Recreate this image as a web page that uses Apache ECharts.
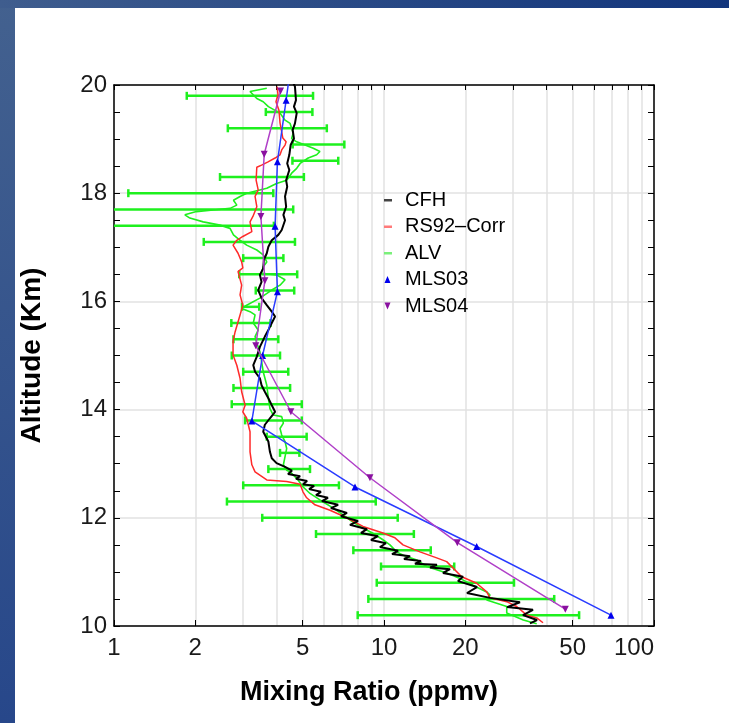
<!DOCTYPE html>
<html>
<head>
<meta charset="utf-8">
<title>Water vapour mixing ratio profile</title>
<script src="https://cdn.jsdelivr.net/npm/echarts@6/dist/echarts.min.js"></script>
<style>
  html, body { margin: 0; padding: 0; width: 729px; height: 723px; overflow: hidden; background: #2c4b88; }
  .frame-left { position: absolute; left: 0; top: 0; width: 15px; height: 723px; background: linear-gradient(to bottom, #43618f, #27478a); }
  .frame-top { position: absolute; left: 0; top: 0; width: 729px; height: 8px; background: linear-gradient(to right, #3f5d8e, #12357c); }
  .panel { position: absolute; left: 15px; top: 8px; right: 0; bottom: 0; background: #fff; }
  #chart { position: absolute; left: 0; top: 0; width: 729px; height: 723px; }
</style>
</head>
<body>
<div class="frame-left"></div>
<div class="frame-top"></div>
<div class="panel"></div>
<div id="chart"></div>
<script>
// tick values
const xLabelValues = [1, 2, 5, 10, 20, 50, 100]
const xGridValues = [1, 2, 3, 4, 5, 6, 7, 8, 9, 10, 20, 30, 40, 50, 60, 70, 80, 90, 100]

// [mixing ratio ppmv, altitude km]
const cfh = [
  [4.6, 20.05], [4.68, 19.97], [4.72, 19.72], [4.64, 19.6], [4.75, 19.48], [4.68, 19.29], [4.59, 19.17],
  [4.64, 19.01], [4.51, 18.89], [4.46, 18.71], [4.38, 18.55], [4.46, 18.43], [4.34, 18.24],
  [4.38, 18.12], [4.3, 17.94], [4.34, 17.75], [4.24, 17.6], [4.3, 17.5], [4.18, 17.32],
  [4.06, 17.23], [3.84, 17.13], [3.73, 17.01], [3.68, 16.89], [3.59, 16.77], [3.57, 16.61],
  [3.47, 16.49], [3.52, 16.36], [3.42, 16.21], [3.52, 16.06], [3.68, 15.93], [3.84, 15.81],
  [3.95, 15.72], [3.84, 15.6], [3.73, 15.47], [3.62, 15.35], [3.47, 15.16], [3.38, 14.98],
  [3.28, 14.82], [3.33, 14.7], [3.47, 14.58], [3.52, 14.45], [3.62, 14.33], [3.73, 14.21],
  [3.84, 14.08], [3.95, 13.96], [3.78, 13.84], [3.62, 13.72], [3.57, 13.59], [3.73, 13.41],
  [3.78, 13.22], [3.84, 13.1], [4.0, 13.01], [4.3, 12.94], [4.56, 12.87], [4.41, 12.81],
  [4.89, 12.77], [4.72, 12.72], [5.19, 12.68], [5.01, 12.62], [5.51, 12.59], [5.28, 12.53],
  [5.84, 12.48], [5.6, 12.42], [6.2, 12.37], [5.89, 12.31], [6.76, 12.24], [6.36, 12.18],
  [7.29, 12.09], [6.93, 12.03], [8.01, 11.94], [7.48, 11.87], [8.65, 11.79], [8.22, 11.72],
  [9.5, 11.66], [8.95, 11.59], [10.17, 11.53], [9.66, 11.46], [11.27, 11.39], [10.71, 11.33],
  [12.49, 11.29], [11.86, 11.24], [13.71, 11.2], [13.02, 11.15], [15.71, 11.13], [14.81, 11.08],
  [17.56, 11.05], [16.54, 10.98], [19.62, 10.91], [18.8, 10.83], [22.1, 10.72], [20.3, 10.61],
  [24.7, 10.52], [31.89, 10.44], [28.55, 10.35], [35.63, 10.3], [32.72, 10.2], [36.87, 10.11],
  [34.73, 10.05]
]

const rs92 = [
  [4.02, 19.97], [4.05, 19.82], [3.98, 19.69], [4.08, 19.54], [4.12, 19.3], [4.22, 19.02],
  [4.34, 18.95], [4.3, 18.89], [4.18, 18.8], [4.12, 18.71], [3.95, 18.65], [3.72, 18.58],
  [3.52, 18.52], [3.38, 18.48], [3.36, 18.24], [3.42, 18.06], [3.33, 17.94], [3.38, 17.75],
  [3.27, 17.57], [3.19, 17.47], [3.24, 17.29], [3.0, 17.2], [2.85, 17.13], [2.76, 17.04],
  [2.88, 16.89], [2.97, 16.73], [3.0, 16.62], [2.88, 16.55], [2.97, 16.3], [2.93, 16.12],
  [3.0, 15.93], [2.93, 15.75], [2.81, 15.44], [2.76, 15.26], [2.76, 15.01], [2.85, 14.82],
  [2.93, 14.58], [2.97, 14.33], [3.06, 14.08], [3.0, 13.96], [3.1, 13.84], [3.19, 13.59],
  [3.19, 13.22], [3.24, 12.98], [3.33, 12.85], [3.68, 12.7], [4.36, 12.67], [4.89, 12.62],
  [5.01, 12.48], [5.17, 12.37], [5.55, 12.24], [6.31, 12.14], [7.28, 12.0], [8.36, 11.84],
  [9.91, 11.72], [10.98, 11.63], [11.76, 11.5], [13.59, 11.37], [15.67, 11.26], [17.07, 11.19],
  [19.4, 10.91], [22.04, 10.79], [24.01, 10.63], [24.7, 10.52], [28.48, 10.45], [31.01, 10.36],
  [33.78, 10.2], [36.78, 10.15], [38.81, 10.06]
]

const alv = [
  [3.68, 19.94], [3.19, 19.88], [3.38, 19.75], [3.57, 19.69], [3.73, 19.6], [4.12, 19.48],
  [4.3, 19.35], [4.49, 19.29], [4.61, 19.11], [4.55, 19.01], [4.75, 18.95], [5.1, 18.89],
  [5.47, 18.83], [5.79, 18.77], [5.63, 18.71], [5.24, 18.65], [4.89, 18.55], [4.75, 18.46],
  [4.55, 18.37], [4.36, 18.24], [4.0, 18.18], [3.68, 18.09], [3.47, 18.06], [3.1, 18.0],
  [2.93, 17.94], [2.77, 17.87], [2.85, 17.78], [2.69, 17.72], [2.33, 17.69], [2.02, 17.66],
  [1.83, 17.6], [1.91, 17.54], [2.14, 17.47], [2.47, 17.41], [2.69, 17.35], [2.77, 17.23],
  [2.93, 17.13], [3.1, 17.04], [3.38, 16.95], [3.57, 16.86], [3.68, 16.73], [3.57, 16.64],
  [3.52, 16.52], [4.0, 16.49], [4.3, 16.4], [4.12, 16.3], [3.84, 16.21], [3.47, 16.06],
  [3.1, 15.93], [2.97, 15.87], [3.19, 15.81], [3.33, 15.75], [3.28, 15.6], [3.42, 15.47],
  [3.33, 15.35], [3.38, 15.23], [3.47, 15.07], [3.52, 14.89], [3.57, 14.7], [3.68, 14.45],
  [3.73, 14.21], [3.78, 14.02], [3.89, 13.9], [4.18, 13.87], [4.24, 13.75], [4.12, 13.65],
  [4.18, 13.53], [4.3, 13.41], [4.36, 13.28], [4.3, 13.13], [4.24, 12.98], [4.36, 12.88],
  [4.49, 12.85], [4.75, 12.73], [5.02, 12.57], [5.32, 12.45], [5.79, 12.33], [6.49, 12.18],
  [7.07, 12.05], [7.48, 11.96], [8.15, 11.84], [9.13, 11.71], [9.94, 11.59], [10.52, 11.5],
  [11.14, 11.37], [11.79, 11.31], [13.22, 11.22], [14.39, 11.1], [17.07, 10.98], [19.12, 10.88],
  [21.41, 10.75], [24.01, 10.63], [24.7, 10.57], [24.01, 10.48], [28.48, 10.36], [28.48, 10.24],
  [32.8, 10.11], [36.78, 10.04]
]

// ALV error bars
const alvErrAlt = [19.8, 19.5, 19.2, 18.9, 18.6, 18.3, 18.0, 17.7, 17.4, 17.1, 16.8, 16.5, 16.2, 15.9, 15.6, 15.3, 15.0,
  14.7, 14.4, 14.1, 13.8, 13.5, 13.2, 12.9, 12.6, 12.3, 12.0, 11.7, 11.4, 11.1, 10.8, 10.5, 10.2]
const alvErrLow = [1.86, 3.65, 2.64, 4.59, 4.58, 2.47, 1.13, 0.5, 0.5, 2.15, 3.01, 2.91, 3.35, 2.98, 2.72, 2.77, 2.73,
  3.01, 2.77, 2.73, 3.06, 3.68, 4.12, 3.73, 3.01, 2.62, 3.54, 5.6, 7.7, 9.75, 9.4, 8.75, 7.99]
const alvErrHigh = [5.46, 5.43, 6.14, 7.13, 6.77, 5.05, 3.89, 4.61, 3.91, 4.68, 4.24, 4.77, 4.65, 3.45, 3.8, 4.06, 4.12,
  4.42, 4.49, 4.96, 4.96, 5.17, 4.86, 5.32, 6.81, 9.32, 11.24, 12.9, 14.9, 18.2, 30.3, 42.7, 52.8]

const mls03 = [
  [4.68, 20.93], [4.34, 19.72], [4.03, 18.58], [3.95, 17.39], [4.03, 16.18], [3.55, 15.0],
  [3.24, 13.79], [7.81, 12.57], [22.04, 11.47], [69.3, 10.2]
]
const mls04 = [
  [4.14, 19.89], [3.6, 18.72], [3.5, 17.57], [3.62, 16.38], [3.35, 15.18], [4.52, 13.96],
  [8.87, 12.74], [18.69, 11.54], [46.94, 10.31]
]

const font = '"Liberation Sans", Arial, sans-serif'
const green = '#1ef01e'

// legend icons: a 17x10 box with a short dash or a small triangle
const dashIcon = 'path://M0,0h0.01v0.01h-0.01zM1,4h8v2.6h-8zM16.99,9.99h0.01v0.01h-0.01z'
const upIcon = 'path://M0,0h0.01v0.01h-0.01zM1.5,8.5L4.5,1.5L7.5,8.5zM16.99,9.99h0.01v0.01h-0.01z'
const downIcon = 'path://M0,0h0.01v0.01h-0.01zM1.5,1.5L7.5,1.5L4.5,8.5zM16.99,9.99h0.01v0.01h-0.01z'

function renderErrorBar(params, api) {
  const alt = api.value(2)
  const lo = api.coord([api.value(0), alt])
  const hi = api.coord([api.value(1), alt])
  const edge = api.coord([1, alt])[0]
  const y = lo[1]
  const cap = 4
  const style = { stroke: green, lineWidth: 2.5 }
  const children = [
    { type: 'line', shape: { x1: Math.max(lo[0], edge), y1: y, x2: hi[0], y2: y }, style },
    { type: 'line', shape: { x1: hi[0], y1: y - cap, x2: hi[0], y2: y + cap }, style }
  ]
  if (lo[0] >= edge) {
    children.push({ type: 'line', shape: { x1: lo[0], y1: y - cap, x2: lo[0], y2: y + cap }, style })
  }
  return { type: 'group', children }
}

const chart = echarts.init(document.getElementById('chart'))
const axisLine = { show: true, lineStyle: { color: '#000', width: 1.5 } }
const tickStyle = { color: '#000', width: 1 }

chart.setOption({
  animation: false,
  textStyle: { fontFamily: font },
  grid: { left: 114, right: 75, top: 85, bottom: 97, containLabel: false },
  legend: {
    orient: 'vertical',
    left: 383,
    top: 190,
    padding: 0,
    itemWidth: 17,
    itemHeight: 10,
    itemGap: 6.5,
    textStyle: { fontSize: 20, color: '#000', fontFamily: font },
    data: [
      { name: 'CFH', icon: dashIcon, itemStyle: { color: '#444', borderWidth: 0 } },
      { name: 'RS92–Corr', icon: dashIcon, itemStyle: { color: '#ff7a7a', borderWidth: 0 } },
      { name: 'ALV', icon: dashIcon, itemStyle: { color: '#7af07a', borderWidth: 0 } },
      { name: 'MLS03', icon: upIcon, itemStyle: { color: '#0000ee', borderWidth: 0 } },
      { name: 'MLS04', icon: downIcon, itemStyle: { color: '#8a10a0', borderWidth: 0 } }
    ]
  },
  xAxis: [
    {
      type: 'log',
      logBase: 10,
      min: 1,
      max: 100,
      position: 'bottom',
      axisLine,
      axisTick: { inside: true, length: 6, customValues: xLabelValues, lineStyle: tickStyle },
      axisLabel: {
        customValues: xLabelValues,
        formatter: v => String(Math.round(v)),
        fontSize: 24,
        color: '#1a1a1a',
        margin: 10,
        alignMaxLabel: 'right'
      },
      splitLine: { show: false },
      name: 'Mixing Ratio (ppmv)',
      nameLocation: 'middle',
      nameGap: 53,
      nameTextStyle: {
        fontSize: 27,
        fontWeight: 'bold',
        color: '#000',
        fontFamily: font,
        padding: [0, 30, 0, 0]
      }
    },
    {
      type: 'log',
      logBase: 10,
      min: 1,
      max: 100,
      position: 'top',
      axisLine,
      axisTick: { inside: true, length: 5, customValues: xGridValues, lineStyle: tickStyle },
      axisLabel: { show: false },
      splitLine: { show: true, lineStyle: { color: '#e2e2e2', width: 1.5 } }
    }
  ],
  yAxis: [
    {
      type: 'value',
      min: 10,
      max: 20,
      interval: 2,
      position: 'left',
      axisLine,
      axisTick: { inside: true, length: 6, lineStyle: tickStyle },
      minorTick: { show: true, splitNumber: 4, length: 6, lineStyle: tickStyle },
      axisLabel: { fontSize: 24, color: '#1a1a1a', margin: 7 },
      splitLine: { show: true, lineStyle: { color: '#e2e2e2', width: 1.5 } },
      name: 'Altitude (Km)',
      nameLocation: 'middle',
      nameGap: 68,
      nameTextStyle: { fontSize: 28, fontWeight: 'bold', color: '#000', fontFamily: font }
    },
    {
      type: 'value',
      min: 10,
      max: 20,
      interval: 2,
      position: 'right',
      axisLine,
      axisTick: { inside: true, length: 6, lineStyle: tickStyle },
      minorTick: { show: true, splitNumber: 4, length: 6, lineStyle: tickStyle },
      axisLabel: { show: false },
      splitLine: { show: false }
    }
  ],
  series: [
    {
      name: 'ALV errors',
      type: 'custom',
      renderItem: renderErrorBar,
      encode: { x: [0, 1], y: 2 },
      data: alvErrAlt.map((alt, i) => [alvErrLow[i], alvErrHigh[i], alt]),
      z: 2
    },
    {
      name: 'ALV',
      type: 'line',
      data: alv,
      showSymbol: false,
      symbol: 'none',
      lineStyle: { color: green, width: 1.6 },
      itemStyle: { color: green },
      z: 3
    },
    {
      name: 'RS92–Corr',
      type: 'line',
      data: rs92,
      showSymbol: false,
      symbol: 'none',
      lineStyle: { color: '#ff2a2a', width: 1.5 },
      itemStyle: { color: '#ff2a2a' },
      z: 4
    },
    {
      name: 'CFH',
      type: 'line',
      data: cfh,
      showSymbol: false,
      symbol: 'none',
      lineStyle: { color: '#000', width: 2 },
      itemStyle: { color: '#000' },
      z: 5
    },
    {
      name: 'MLS03',
      type: 'line',
      data: mls03,
      symbol: 'triangle',
      symbolSize: 7,
      clip: true,
      lineStyle: { color: '#2a3cff', width: 1.5 },
      itemStyle: { color: '#0000ee' },
      z: 6
    },
    {
      name: 'MLS04',
      type: 'line',
      data: mls04,
      symbol: 'triangle',
      symbolRotate: 180,
      symbolSize: 7,
      clip: true,
      lineStyle: { color: '#b040c8', width: 1.5 },
      itemStyle: { color: '#8a10a0' },
      z: 7
    }
  ]
})
</script>
</body>
</html>
